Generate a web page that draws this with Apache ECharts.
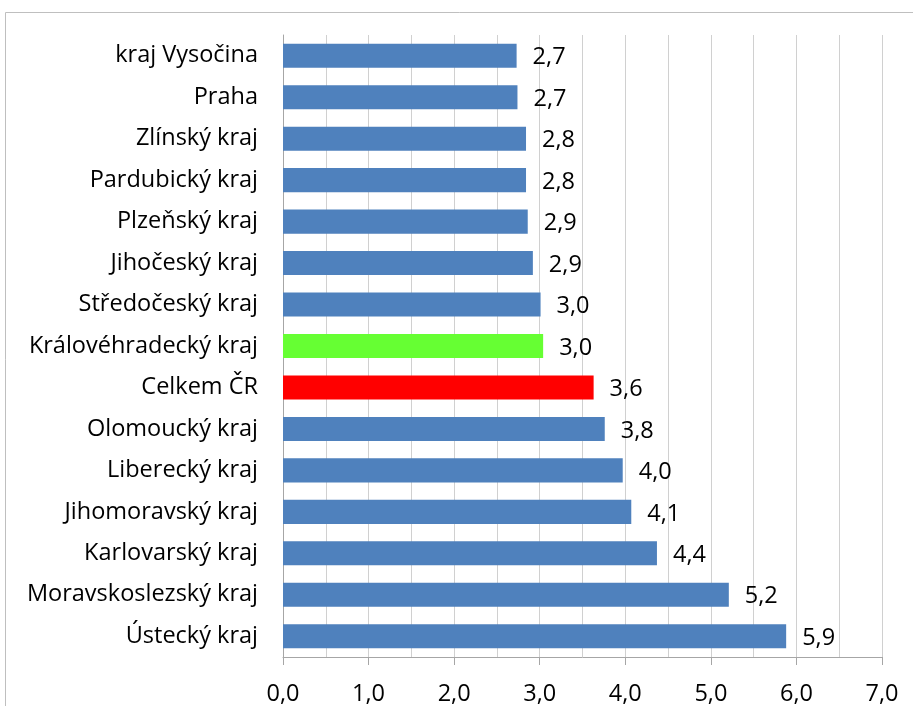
<!DOCTYPE html>
<html><head><meta charset="utf-8">
<script src="https://cdn.jsdelivr.net/npm/echarts@6/dist/echarts.min.js"></script>
<style>html,body{margin:0;padding:0;background:#fff}#c{width:913px;height:706px}</style>
</head><body><div id="c"></div>
<script>
const categories = ["kraj Vysočina","Praha","Zlínský kraj","Pardubický kraj","Plzeňský kraj","Jihočeský kraj","Středočeský kraj","Královéhradecký kraj","Celkem ČR","Olomoucký kraj","Liberecký kraj","Jihomoravský kraj","Karlovarský kraj","Moravskoslezský kraj","Ústecký kraj"];
const values = [2.73,2.74,2.84,2.84,2.86,2.92,3.01,3.04,3.63,3.76,3.97,4.07,4.37,5.21,5.88];
const colors = ["#4f81bd","#4f81bd","#4f81bd","#4f81bd","#4f81bd","#4f81bd","#4f81bd","#66ff33","#ff0000","#4f81bd","#4f81bd","#4f81bd","#4f81bd","#4f81bd","#4f81bd"];
const xTicks = [0,1,2,3,4,5,6,7];
const FONT = "Open Sans";
const FS = 23.5;
const chart = echarts.init(document.getElementById('c'));
chart.setOption({
  animation:false,
  graphic:[{type:'rect',shape:{x:5.5,y:12.5,width:1000,height:1000},style:{fill:'none',stroke:'#bfbfbf',lineWidth:1}}],
  grid:{left:283,right:31,top:35,bottom:49},
  xAxis:{type:'value',min:xTicks[0],max:xTicks[xTicks.length-1],interval:1,
    axisLine:{show:true,lineStyle:{color:'#a6a6a6'}},
    axisTick:{show:true,length:8,lineStyle:{color:'#a6a6a6'}},
    axisLabel:{fontFamily:FONT,fontSize:FS,color:'#000',margin:25,formatter:v=>v.toFixed(1).replace('.',',')},
    splitLine:{show:true,lineStyle:{color:'#d0d0d0'}},
    minorTick:{show:false,splitNumber:2},
    minorSplitLine:{show:true,lineStyle:{color:'#d0d0d0'}}
  },
  yAxis:{type:'category',inverse:true,data:categories,
    axisLine:{show:true,lineStyle:{color:'#a6a6a6'}},
    axisTick:{show:false},
    axisLabel:{fontFamily:FONT,fontSize:FS,color:'#000',margin:25}
  },
  series:[{type:'bar',barWidth:'58%',
    data:values.map((v,i)=>({value:v,itemStyle:{color:colors[i]}})),
    label:{show:true,position:'right',distance:16,offset:[0,2],fontFamily:FONT,fontSize:FS,color:'#000',
      formatter:p=>p.value.toFixed(1).replace('.',',')}
  }]
});
</script></body></html>
